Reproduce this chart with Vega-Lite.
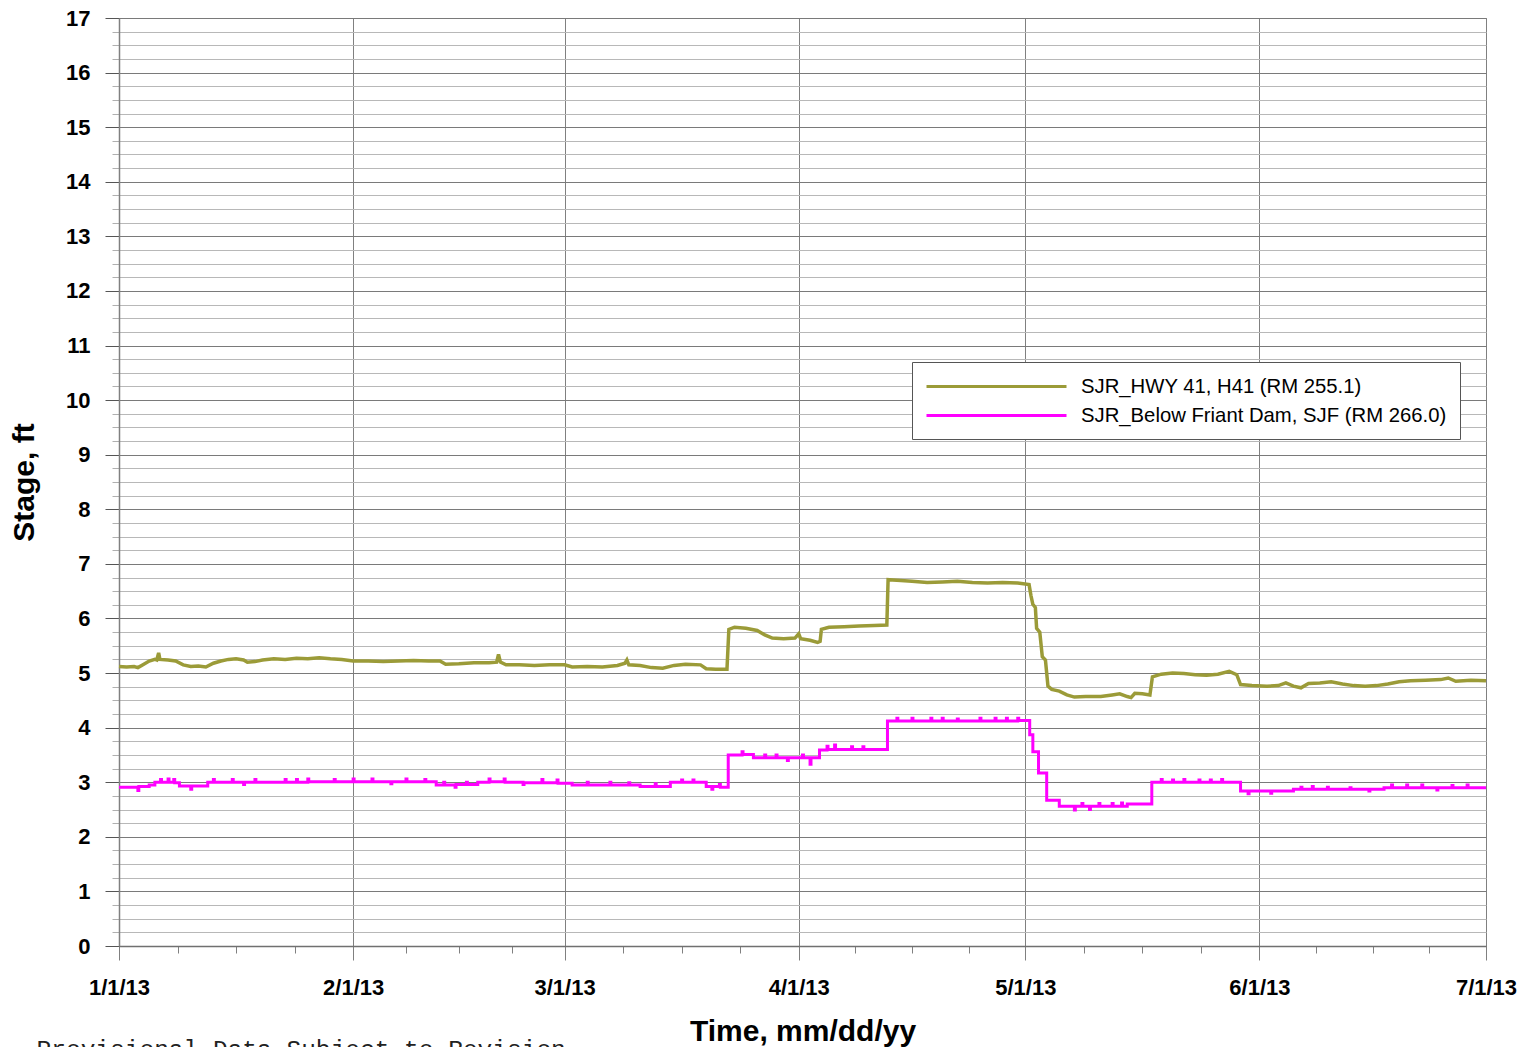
{
  "$schema": "https://vega.github.io/schema/vega-lite/v6.json",
  "autosize": {"type": "none"},
  "width": 1367,
  "height": 928,
  "padding": {"left": 119, "top": 18, "right": 36, "bottom": 101},
  "background": "white",
  "title": {
    "text": "Provisional Data Subject to Revision",
    "orient": "bottom",
    "anchor": "start",
    "frame": "bounds",
    "font": "Liberation Mono",
    "fontSize": 24.5,
    "fontWeight": "normal",
    "color": "#222222",
    "offset": -8,
    "dx": 27
  },
  "config": {
    "view": {"stroke": "#808080", "strokeWidth": 1},
    "font": "Liberation Sans"
  },
  "datasets": {
    "h41": [
      {"t":"2013-01-01T00:00","v":5.12},{"t":"2013-01-02T00:00","v":5.11},{"t":"2013-01-03T00:00","v":5.12},{"t":"2013-01-03T12:00","v":5.10},
      {"t":"2013-01-04T00:00","v":5.14},{"t":"2013-01-05T00:00","v":5.22},{"t":"2013-01-05T18:00","v":5.25},{"t":"2013-01-06T00:00","v":5.24},
      {"t":"2013-01-06T06:00","v":5.37},{"t":"2013-01-06T10:00","v":5.25},{"t":"2013-01-07T12:00","v":5.24},{"t":"2013-01-08T12:00","v":5.22},
      {"t":"2013-01-09T12:00","v":5.15},{"t":"2013-01-10T12:00","v":5.12},{"t":"2013-01-11T12:00","v":5.13},{"t":"2013-01-12T12:00","v":5.11},
      {"t":"2013-01-13T12:00","v":5.18},{"t":"2013-01-14T12:00","v":5.22},{"t":"2013-01-15T12:00","v":5.25},{"t":"2013-01-16T12:00","v":5.26},
      {"t":"2013-01-17T12:00","v":5.24},{"t":"2013-01-18T00:00","v":5.20},{"t":"2013-01-19T00:00","v":5.21},{"t":"2013-01-20T00:00","v":5.24},
      {"t":"2013-01-21T12:00","v":5.26},{"t":"2013-01-23T00:00","v":5.25},{"t":"2013-01-24T12:00","v":5.27},{"t":"2013-01-26T00:00","v":5.26},
      {"t":"2013-01-27T12:00","v":5.28},{"t":"2013-01-29T00:00","v":5.26},{"t":"2013-01-30T12:00","v":5.25},{"t":"2013-02-01T00:00","v":5.22},
      {"t":"2013-02-03T00:00","v":5.22},{"t":"2013-02-05T00:00","v":5.21},{"t":"2013-02-07T00:00","v":5.22},{"t":"2013-02-09T00:00","v":5.23},
      {"t":"2013-02-11T00:00","v":5.22},{"t":"2013-02-12T12:00","v":5.22},{"t":"2013-02-13T06:00","v":5.16},{"t":"2013-02-15T00:00","v":5.17},
      {"t":"2013-02-17T00:00","v":5.19},{"t":"2013-02-19T00:00","v":5.19},{"t":"2013-02-20T00:00","v":5.20},{"t":"2013-02-20T06:00","v":5.34},
      {"t":"2013-02-20T12:00","v":5.20},{"t":"2013-02-21T06:00","v":5.15},{"t":"2013-02-23T00:00","v":5.15},{"t":"2013-02-25T00:00","v":5.14},
      {"t":"2013-02-27T00:00","v":5.15},{"t":"2013-03-01T00:00","v":5.15},{"t":"2013-03-02T00:00","v":5.11},{"t":"2013-03-04T00:00","v":5.12},
      {"t":"2013-03-06T00:00","v":5.11},{"t":"2013-03-08T00:00","v":5.14},{"t":"2013-03-09T00:00","v":5.18},{"t":"2013-03-09T06:00","v":5.24},
      {"t":"2013-03-09T12:00","v":5.15},{"t":"2013-03-11T00:00","v":5.14},{"t":"2013-03-12T12:00","v":5.10},{"t":"2013-03-14T00:00","v":5.09},
      {"t":"2013-03-15T12:00","v":5.14},{"t":"2013-03-17T00:00","v":5.16},{"t":"2013-03-19T00:00","v":5.15},{"t":"2013-03-19T18:00","v":5.08},
      {"t":"2013-03-21T00:00","v":5.07},{"t":"2013-03-22T12:00","v":5.07},{"t":"2013-03-22T18:00","v":5.80},{"t":"2013-03-23T12:00","v":5.84},
      {"t":"2013-03-25T00:00","v":5.82},{"t":"2013-03-26T12:00","v":5.78},{"t":"2013-03-27T12:00","v":5.70},{"t":"2013-03-28T12:00","v":5.64},
      {"t":"2013-03-30T00:00","v":5.63},{"t":"2013-03-31T12:00","v":5.64},{"t":"2013-04-01T00:00","v":5.72},{"t":"2013-04-01T06:00","v":5.63},
      {"t":"2013-04-02T12:00","v":5.60},{"t":"2013-04-03T12:00","v":5.56},{"t":"2013-04-03T20:00","v":5.58},{"t":"2013-04-04T00:00","v":5.80},
      {"t":"2013-04-05T00:00","v":5.84},{"t":"2013-04-07T00:00","v":5.85},{"t":"2013-04-09T00:00","v":5.86},{"t":"2013-04-11T00:00","v":5.87},
      {"t":"2013-04-12T16:00","v":5.88},{"t":"2013-04-12T20:00","v":6.71},{"t":"2013-04-14T00:00","v":6.70},{"t":"2013-04-16T00:00","v":6.68},
      {"t":"2013-04-18T00:00","v":6.66},{"t":"2013-04-20T00:00","v":6.67},{"t":"2013-04-22T00:00","v":6.68},{"t":"2013-04-24T00:00","v":6.66},
      {"t":"2013-04-26T00:00","v":6.65},{"t":"2013-04-28T00:00","v":6.66},{"t":"2013-04-30T00:00","v":6.65},{"t":"2013-05-01T12:00","v":6.62},
      {"t":"2013-05-01T18:00","v":6.42},{"t":"2013-05-02T00:00","v":6.26},{"t":"2013-05-02T08:00","v":6.20},{"t":"2013-05-02T12:00","v":5.82},
      {"t":"2013-05-02T22:00","v":5.75},{"t":"2013-05-03T06:00","v":5.30},{"t":"2013-05-03T16:00","v":5.24},{"t":"2013-05-04T00:00","v":4.76},
      {"t":"2013-05-04T12:00","v":4.70},{"t":"2013-05-05T12:00","v":4.67},{"t":"2013-05-06T12:00","v":4.60},{"t":"2013-05-07T12:00","v":4.56},
      {"t":"2013-05-09T00:00","v":4.57},{"t":"2013-05-11T00:00","v":4.57},{"t":"2013-05-12T12:00","v":4.60},{"t":"2013-05-13T12:00","v":4.62},
      {"t":"2013-05-14T12:00","v":4.57},{"t":"2013-05-15T00:00","v":4.55},{"t":"2013-05-15T12:00","v":4.63},{"t":"2013-05-16T12:00","v":4.62},
      {"t":"2013-05-17T12:00","v":4.60},{"t":"2013-05-17T20:00","v":4.93},{"t":"2013-05-19T00:00","v":4.98},{"t":"2013-05-20T12:00","v":5.00},
      {"t":"2013-05-22T00:00","v":4.99},{"t":"2013-05-23T12:00","v":4.97},{"t":"2013-05-25T00:00","v":4.96},{"t":"2013-05-26T12:00","v":4.98},
      {"t":"2013-05-28T00:00","v":5.03},{"t":"2013-05-29T00:00","v":4.97},{"t":"2013-05-29T12:00","v":4.79},{"t":"2013-05-31T00:00","v":4.77},
      {"t":"2013-06-02T00:00","v":4.76},{"t":"2013-06-03T12:00","v":4.77},{"t":"2013-06-04T12:00","v":4.82},{"t":"2013-06-05T12:00","v":4.76},
      {"t":"2013-06-06T12:00","v":4.73},{"t":"2013-06-07T12:00","v":4.81},{"t":"2013-06-09T00:00","v":4.82},{"t":"2013-06-10T12:00","v":4.84},
      {"t":"2013-06-12T00:00","v":4.80},{"t":"2013-06-13T12:00","v":4.77},{"t":"2013-06-15T00:00","v":4.76},{"t":"2013-06-16T12:00","v":4.77},
      {"t":"2013-06-18T00:00","v":4.80},{"t":"2013-06-19T12:00","v":4.84},{"t":"2013-06-21T00:00","v":4.86},{"t":"2013-06-23T00:00","v":4.87},
      {"t":"2013-06-25T00:00","v":4.88},{"t":"2013-06-26T00:00","v":4.91},{"t":"2013-06-27T00:00","v":4.85},{"t":"2013-06-29T00:00","v":4.87},
      {"t":"2013-07-01T00:00","v":4.86}
    ],
    "sjf": [
      {"t":"2013-01-01T00:00","v":2.91},{"t":"2013-01-03T12:00","v":2.85},{"t":"2013-01-03T15:00","v":2.92},{"t":"2013-01-05T00:00","v":2.95},
      {"t":"2013-01-05T18:00","v":3.00},{"t":"2013-01-06T12:00","v":3.05},{"t":"2013-01-06T15:00","v":3.00},{"t":"2013-01-07T12:00","v":3.06},
      {"t":"2013-01-07T15:00","v":3.00},{"t":"2013-01-08T06:00","v":3.05},{"t":"2013-01-08T09:00","v":2.99},{"t":"2013-01-09T00:00","v":2.93},
      {"t":"2013-01-10T12:00","v":2.87},{"t":"2013-01-10T15:00","v":2.93},{"t":"2013-01-12T18:00","v":3.00},{"t":"2013-01-13T12:00","v":3.05},
      {"t":"2013-01-13T15:00","v":3.00},{"t":"2013-01-16T00:00","v":3.05},{"t":"2013-01-16T03:00","v":3.00},{"t":"2013-01-17T12:00","v":2.96},
      {"t":"2013-01-17T15:00","v":3.00},{"t":"2013-01-19T00:00","v":3.05},{"t":"2013-01-19T03:00","v":3.00},{"t":"2013-01-23T00:00","v":3.05},
      {"t":"2013-01-23T03:00","v":3.00},{"t":"2013-01-24T12:00","v":3.05},{"t":"2013-01-24T15:00","v":3.00},{"t":"2013-01-26T00:00","v":3.06},
      {"t":"2013-01-26T03:00","v":3.01},{"t":"2013-01-29T12:00","v":3.05},{"t":"2013-01-29T15:00","v":3.01},{"t":"2013-02-01T00:00","v":3.06},
      {"t":"2013-02-01T03:00","v":3.01},{"t":"2013-02-03T12:00","v":3.06},{"t":"2013-02-03T15:00","v":3.01},{"t":"2013-02-06T00:00","v":2.97},
      {"t":"2013-02-06T03:00","v":3.01},{"t":"2013-02-08T00:00","v":3.06},{"t":"2013-02-08T03:00","v":3.01},{"t":"2013-02-10T12:00","v":3.05},
      {"t":"2013-02-10T15:00","v":3.01},{"t":"2013-02-12T00:00","v":2.95},{"t":"2013-02-13T00:00","v":3.00},{"t":"2013-02-13T03:00","v":2.95},
      {"t":"2013-02-14T12:00","v":2.91},{"t":"2013-02-14T15:00","v":2.96},{"t":"2013-02-16T00:00","v":3.00},{"t":"2013-02-16T03:00","v":2.96},
      {"t":"2013-02-17T12:00","v":3.00},{"t":"2013-02-19T00:00","v":3.06},{"t":"2013-02-19T03:00","v":3.01},{"t":"2013-02-21T00:00","v":3.06},
      {"t":"2013-02-21T03:00","v":3.00},{"t":"2013-02-23T12:00","v":2.96},{"t":"2013-02-23T15:00","v":2.99},{"t":"2013-02-26T00:00","v":3.05},
      {"t":"2013-02-26T03:00","v":2.99},{"t":"2013-02-28T00:00","v":3.04},{"t":"2013-02-28T03:00","v":2.98},{"t":"2013-03-02T00:00","v":2.95},
      {"t":"2013-03-04T00:00","v":3.00},{"t":"2013-03-04T03:00","v":2.95},{"t":"2013-03-07T00:00","v":3.00},{"t":"2013-03-07T03:00","v":2.95},
      {"t":"2013-03-09T12:00","v":2.99},{"t":"2013-03-09T15:00","v":2.95},{"t":"2013-03-11T00:00","v":2.92},{"t":"2013-03-13T00:00","v":2.97},
      {"t":"2013-03-13T03:00","v":2.92},{"t":"2013-03-15T00:00","v":3.00},{"t":"2013-03-16T12:00","v":3.04},{"t":"2013-03-16T15:00","v":3.00},
      {"t":"2013-03-18T00:00","v":3.04},{"t":"2013-03-18T03:00","v":3.00},{"t":"2013-03-19T18:00","v":2.92},{"t":"2013-03-20T12:00","v":2.87},
      {"t":"2013-03-20T15:00","v":2.92},{"t":"2013-03-21T12:00","v":2.96},{"t":"2013-03-21T15:00","v":2.91},{"t":"2013-03-22T16:00","v":3.50},
      {"t":"2013-03-24T12:00","v":3.56},{"t":"2013-03-24T15:00","v":3.51},{"t":"2013-03-26T00:00","v":3.45},{"t":"2013-03-27T12:00","v":3.50},
      {"t":"2013-03-27T15:00","v":3.45},{"t":"2013-03-29T00:00","v":3.50},{"t":"2013-03-29T03:00","v":3.45},{"t":"2013-03-30T12:00","v":3.40},
      {"t":"2013-03-30T15:00","v":3.45},{"t":"2013-04-01T12:00","v":3.50},{"t":"2013-04-01T15:00","v":3.45},{"t":"2013-04-02T12:00","v":3.33},
      {"t":"2013-04-02T15:00","v":3.45},{"t":"2013-04-03T18:00","v":3.59},{"t":"2013-04-04T18:00","v":3.66},{"t":"2013-04-04T21:00","v":3.60},
      {"t":"2013-04-05T18:00","v":3.68},{"t":"2013-04-05T21:00","v":3.60},{"t":"2013-04-08T00:00","v":3.65},{"t":"2013-04-08T03:00","v":3.60},
      {"t":"2013-04-09T12:00","v":3.65},{"t":"2013-04-09T15:00","v":3.60},{"t":"2013-04-12T18:00","v":4.12},{"t":"2013-04-14T00:00","v":4.17},
      {"t":"2013-04-14T03:00","v":4.12},{"t":"2013-04-16T00:00","v":4.17},{"t":"2013-04-16T03:00","v":4.12},{"t":"2013-04-18T12:00","v":4.17},
      {"t":"2013-04-18T15:00","v":4.12},{"t":"2013-04-20T00:00","v":4.17},{"t":"2013-04-20T03:00","v":4.12},{"t":"2013-04-22T00:00","v":4.16},
      {"t":"2013-04-22T03:00","v":4.12},{"t":"2013-04-25T00:00","v":4.17},{"t":"2013-04-25T03:00","v":4.12},{"t":"2013-04-27T00:00","v":4.17},
      {"t":"2013-04-27T03:00","v":4.12},{"t":"2013-04-28T12:00","v":4.17},{"t":"2013-04-28T15:00","v":4.12},{"t":"2013-04-30T00:00","v":4.17},
      {"t":"2013-04-30T03:00","v":4.13},{"t":"2013-05-01T14:00","v":3.87},{"t":"2013-05-02T00:00","v":3.56},{"t":"2013-05-02T18:00","v":3.17},
      {"t":"2013-05-03T20:00","v":2.67},{"t":"2013-05-05T12:00","v":2.56},{"t":"2013-05-07T12:00","v":2.49},{"t":"2013-05-07T15:00","v":2.56},
      {"t":"2013-05-08T12:00","v":2.61},{"t":"2013-05-08T15:00","v":2.56},{"t":"2013-05-09T12:00","v":2.50},{"t":"2013-05-09T15:00","v":2.56},
      {"t":"2013-05-10T18:00","v":2.61},{"t":"2013-05-10T21:00","v":2.56},{"t":"2013-05-12T12:00","v":2.61},{"t":"2013-05-12T15:00","v":2.56},
      {"t":"2013-05-13T18:00","v":2.62},{"t":"2013-05-13T21:00","v":2.56},{"t":"2013-05-14T12:00","v":2.60},{"t":"2013-05-17T18:00","v":3.00},
      {"t":"2013-05-19T00:00","v":3.05},{"t":"2013-05-19T03:00","v":3.00},{"t":"2013-05-20T12:00","v":3.04},{"t":"2013-05-20T15:00","v":3.00},
      {"t":"2013-05-22T00:00","v":3.05},{"t":"2013-05-22T03:00","v":3.00},{"t":"2013-05-24T00:00","v":3.04},{"t":"2013-05-24T03:00","v":3.00},
      {"t":"2013-05-25T12:00","v":3.04},{"t":"2013-05-25T15:00","v":3.00},{"t":"2013-05-27T00:00","v":3.05},{"t":"2013-05-27T03:00","v":3.00},
      {"t":"2013-05-29T12:00","v":2.84},{"t":"2013-05-30T12:00","v":2.79},{"t":"2013-05-30T15:00","v":2.84},{"t":"2013-06-02T12:00","v":2.80},
      {"t":"2013-06-02T15:00","v":2.84},{"t":"2013-06-05T12:00","v":2.87},{"t":"2013-06-06T12:00","v":2.91},{"t":"2013-06-06T15:00","v":2.87},
      {"t":"2013-06-08T00:00","v":2.92},{"t":"2013-06-08T03:00","v":2.87},{"t":"2013-06-10T00:00","v":2.91},{"t":"2013-06-10T03:00","v":2.87},
      {"t":"2013-06-13T00:00","v":2.90},{"t":"2013-06-13T03:00","v":2.87},{"t":"2013-06-15T12:00","v":2.84},{"t":"2013-06-15T15:00","v":2.87},
      {"t":"2013-06-17T12:00","v":2.90},{"t":"2013-06-18T12:00","v":2.95},{"t":"2013-06-18T15:00","v":2.90},{"t":"2013-06-20T12:00","v":2.95},
      {"t":"2013-06-20T15:00","v":2.90},{"t":"2013-06-22T12:00","v":2.95},{"t":"2013-06-22T15:00","v":2.90},{"t":"2013-06-24T12:00","v":2.86},
      {"t":"2013-06-24T15:00","v":2.90},{"t":"2013-06-26T12:00","v":2.94},{"t":"2013-06-26T15:00","v":2.90},{"t":"2013-06-28T12:00","v":2.95},
      {"t":"2013-06-28T15:00","v":2.90},{"t":"2013-07-01T00:00","v":2.90}
    ]
  },
  "encoding": {
    "x": {
      "field": "t",
      "type": "temporal",
      "title": "Time, mm/dd/yy",
      "scale": {
        "domain": [{"year": 2013, "month": 1, "date": 1}, {"year": 2013, "month": 7, "date": 1}],
        "nice": false
      },
      "axis": {
        "values": [
          {"year":2013,"month":1,"date":1},{"year":2013,"month":1,"date":8,"hours":18},{"year":2013,"month":1,"date":16,"hours":12},{"year":2013,"month":1,"date":24,"hours":6},
          {"year":2013,"month":2,"date":1},{"year":2013,"month":2,"date":8},{"year":2013,"month":2,"date":15},{"year":2013,"month":2,"date":22},
          {"year":2013,"month":3,"date":1},{"year":2013,"month":3,"date":8,"hours":18},{"year":2013,"month":3,"date":16,"hours":12},{"year":2013,"month":3,"date":24,"hours":6},
          {"year":2013,"month":4,"date":1},{"year":2013,"month":4,"date":8,"hours":12},{"year":2013,"month":4,"date":16},{"year":2013,"month":4,"date":23,"hours":12},
          {"year":2013,"month":5,"date":1},{"year":2013,"month":5,"date":8,"hours":18},{"year":2013,"month":5,"date":16,"hours":12},{"year":2013,"month":5,"date":24,"hours":6},
          {"year":2013,"month":6,"date":1},{"year":2013,"month":6,"date":8,"hours":12},{"year":2013,"month":6,"date":16},{"year":2013,"month":6,"date":23,"hours":12},
          {"year":2013,"month":7,"date":1}
        ],
        "labelExpr": "date(datum.value) === 1 && hours(datum.value) === 0 ? timeFormat(datum.value, '%-m/%-d/%y') : ''",
        "labelOverlap": false,
        "labelFlush": false,
        "labelBound": false,
        "labelFont": "Liberation Sans",
        "labelFontSize": 22,
        "labelFontWeight": "bold",
        "labelColor": "#000000",
        "labelPadding": 17,
        "grid": true,
        "gridColor": "#808080",
        "gridWidth": 1,
        "gridOpacity": {"condition": {"test": "date(datum.value) === 1 && hours(datum.value) === 0", "value": 1}, "value": 0},
        "ticks": true,
        "tickColor": "#808080",
        "tickWidth": 1,
        "tickSize": {"condition": {"test": "date(datum.value) === 1 && hours(datum.value) === 0", "value": 14}, "value": 7},
        "domainColor": "#707070",
        "domainWidth": 1.5,
        "titleFont": "Liberation Sans",
        "titleFontSize": 30,
        "titleFontWeight": "bold",
        "titleColor": "#000000",
        "titlePadding": 18
      }
    },
    "y": {
      "field": "v",
      "type": "quantitative",
      "title": "Stage, ft",
      "scale": {"domain": [0, 17], "nice": false, "zero": true},
      "axis": {
        "values": [0,0.25,0.5,0.75,1,1.25,1.5,1.75,2,2.25,2.5,2.75,3,3.25,3.5,3.75,4,4.25,4.5,4.75,5,5.25,5.5,5.75,6,6.25,6.5,6.75,7,7.25,7.5,7.75,8,8.25,8.5,8.75,9,9.25,9.5,9.75,10,10.25,10.5,10.75,11,11.25,11.5,11.75,12,12.25,12.5,12.75,13,13.25,13.5,13.75,14,14.25,14.5,14.75,15,15.25,15.5,15.75,16,16.25,16.5,16.75,17],
        "labelExpr": "datum.value % 1 === 0 ? format(datum.value, 'd') : ''",
        "labelOverlap": false,
        "labelFlush": false,
        "labelBound": false,
        "labelFont": "Liberation Sans",
        "labelFontSize": 22,
        "labelFontWeight": "bold",
        "labelColor": "#000000",
        "labelPadding": 15,
        "grid": true,
        "gridColor": {"condition": {"test": "datum.value % 1 === 0", "value": "#7a7a7a"}, "value": "#b8b8b8"},
        "gridWidth": 1,
        "ticks": true,
        "tickColor": {"condition": {"test": "datum.value % 1 === 0", "value": "#555555"}, "value": "#b0b0b0"},
        "tickWidth": 1,
        "tickSize": {"condition": {"test": "datum.value % 1 === 0", "value": 14}, "value": 7},
        "domainColor": "#808080",
        "domainWidth": 1.5,
        "titleFont": "Liberation Sans",
        "titleFontSize": 30,
        "titleFontWeight": "bold",
        "titleColor": "#000000",
        "titlePadding": 26
      }
    }
  },
  "layer": [
    {
      "data": {"name": "h41"},
      "mark": {"type": "line", "strokeWidth": 3.5, "interpolate": "linear"},
      "encoding": {
        "color": {
          "datum": "SJR_HWY 41, H41 (RM 255.1)",
          "type": "nominal",
          "scale": {
            "domain": ["SJR_HWY 41, H41 (RM 255.1)", "SJR_Below Friant Dam, SJF (RM 266.0)"],
            "range": ["#9b9b38", "#ff00ff"]
          },
          "legend": {
            "title": null,
            "orient": "none",
            "legendX": 793,
            "legendY": 344,
            "symbolType": "M-1,0H13",
            "symbolSize": 400,
            "symbolStrokeWidth": 3,
            "symbolFillColor": "transparent",
            "labelFont": "Liberation Sans",
            "labelFontSize": 20.3,
            "labelColor": "#000000",
            "labelOffset": 133,
            "labelLimit": 600,
            "padding": 13,
            "rowPadding": 7,
            "strokeColor": "#555555",
            "fillColor": "#ffffff",
            "cornerRadius": 0
          }
        }
      }
    },
    {
      "data": {"name": "sjf"},
      "mark": {"type": "line", "strokeWidth": 3, "interpolate": "step-after"},
      "encoding": {
        "color": {"datum": "SJR_Below Friant Dam, SJF (RM 266.0)", "type": "nominal"}
      }
    }
  ]
}
